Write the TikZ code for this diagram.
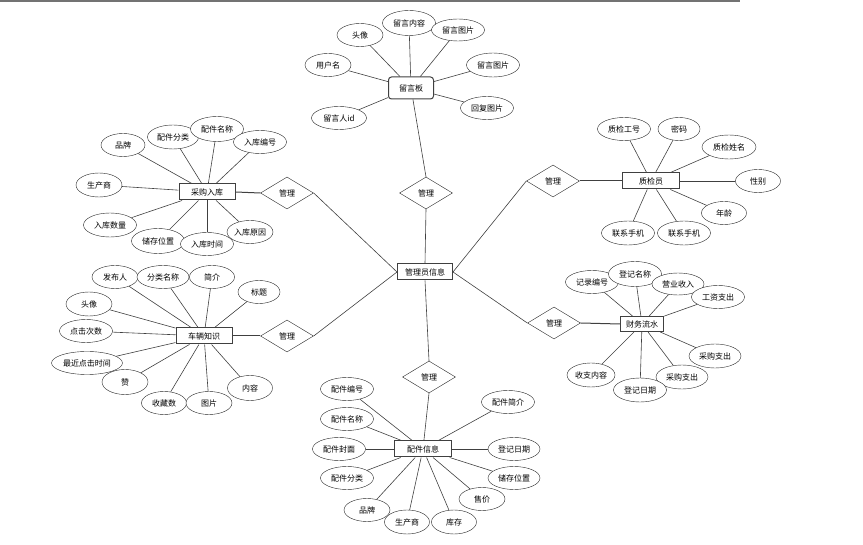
\documentclass[tikz,border=0pt]{standalone}
\usepackage{fontspec}
\setmainfont{Noto Sans CJK SC}
\usepackage{tikz}
\usetikzlibrary{shapes.geometric}
\tikzset{
  erfont/.style={font=\fontsize{8}{9}\selectfont},
  attr/.style={erfont, ellipse, draw=black!85, fill=white, minimum width=53pt, minimum height=24pt, inner sep=0pt},
  sattr/.style={attr, minimum width=46pt, minimum height=23pt},
  ent/.style={erfont, rectangle, draw=black!75, fill=white, line width=1pt, minimum width=56pt, minimum height=16pt, inner sep=0pt},
  rel/.style={erfont, diamond, draw=black!85, fill=white, minimum width=53pt, minimum height=32pt, inner sep=0pt},
  link/.style={draw=black!75, line width=0.6pt}
}

\begin{document}
\begin{tikzpicture}[x=1pt,y=-1pt]
\useasboundingbox (0,0) rectangle (863,545);
% page edge
\draw[black!55, line width=1.5pt] (0,1) -- (740,1);

% Centre
\node[ent, minimum width=55pt] (admin) at (425,272) {管理员信息};
\node[rel] (m1) at (426,193) {管理};
\node[rel] (m2) at (287,193) {管理};
\node[rel] (m3) at (287,336) {管理};
\node[rel] (m4) at (429,377) {管理};
\node[rel] (m5) at (553,181) {管理};
\node[rel] (m6) at (554,323) {管理};

% Message board
\node[ent, rounded corners=3pt, minimum width=45pt, minimum height=22pt] (board) at (411,88) {留言板};
\node[sattr] (b1) at (360,35) {头像};
\node[attr, minimum height=25pt] (b2) at (409,23) {留言内容};
\node[attr, minimum height=22pt] (b3) at (458,30) {留言图片};
\node[attr] (b4) at (493,65) {留言图片};
\node[attr, minimum height=23pt] (b5) at (487,108) {回复图片};
\node[sattr] (b6) at (328,65) {用户名};
\node[attr, minimum width=55pt, minimum height=23pt] (b7) at (339,118) {留言人id};
\foreach \a in {b1,b2,b3,b4,b5,b6,b7}
  \draw[link] (board) -- (\a);

% Purchase
\node[ent] (buy) at (207,192) {采购入库};
\node[sattr, minimum width=44pt] (p1) at (123,145) {品牌};
\node[attr, minimum width=51pt] (p2) at (173,137) {配件分类};
\node[attr, minimum height=25pt] (p3) at (217,129) {配件名称};
\node[attr, minimum height=23pt] (p4) at (260,142) {入库编号};
\node[sattr, minimum height=24pt] (p5) at (99,185) {生产商};
\node[attr] (p6) at (110,225) {入库数量};
\node[attr, minimum height=25pt] (p7) at (158,241) {储存位置};
\node[attr, minimum height=23pt] (p8) at (207,244) {入库时间};
\node[sattr] (p9) at (250,232) {入库原因};
\foreach \a in {p1,p2,p3,p4,p5,p6,p7,p8,p9}
  \draw[link] (buy) -- (\a);

% Car knowledge
\node[ent] (car) at (204,336) {车辆知识};
\node[sattr] (k1) at (115,277) {发布人};
\node[attr, minimum width=52pt, minimum height=23pt] (k2) at (163,277) {分类名称};
\node[sattr, minimum width=45pt] (k3) at (212,277) {简介};
\node[sattr, minimum width=42pt] (k4) at (259,292) {标题};
\node[sattr, minimum height=24pt] (k5) at (89,304) {头像};
\node[attr, minimum height=23pt] (k6) at (86,331) {点击次数};
\node[attr, minimum width=71pt, minimum height=23pt] (k7) at (87,363) {最近点击时间};
\node[sattr, minimum height=25pt] (k8) at (125,382) {赞};
\node[sattr, minimum width=45pt] (k9) at (164,403) {收藏数};
\node[sattr] (k10) at (209,403) {图片};
\node[sattr, minimum width=45pt, minimum height=25pt] (k11) at (250,388) {内容};
\foreach \a in {k1,k2,k3,k4,k5,k6,k7,k8,k9,k10,k11}
  \draw[link] (car) -- (\a);

% Parts
\node[ent, minimum width=57pt] (part) at (423,449) {配件信息};
\node[attr, minimum height=23pt] (c1) at (347,389) {配件编号};
\node[attr, minimum height=23pt] (c2) at (347,419) {配件名称};
\node[attr, minimum height=23pt] (c3) at (339,449) {配件封面};
\node[attr, minimum height=23pt] (c4) at (347,478) {配件分类};
\node[sattr] (c5) at (367,510) {品牌};
\node[sattr, minimum width=45pt, minimum height=24pt] (c6) at (407,522) {生产商};
\node[sattr, minimum width=45pt, minimum height=24pt] (c7) at (454,522) {库存};
\node[sattr] (c8) at (482,499) {售价};
\node[attr, minimum width=52pt, minimum height=23pt] (c9) at (514,478) {储存位置};
\node[attr, minimum width=52pt, minimum height=23pt] (c10) at (514,449) {登记日期};
\node[attr, minimum height=23pt] (c11) at (508,402) {配件简介};
\foreach \a in {c1,c2,c3,c4,c5,c6,c7,c8,c9,c10,c11}
  \draw[link] (part) -- (\a);

% Quality inspector
\node[ent, minimum width=57pt] (qc) at (651,181) {质检员};
\node[attr, minimum height=23pt] (q1) at (624,129) {质检工号};
\node[sattr, minimum width=42pt] (q2) at (679,129) {密码};
\node[attr, minimum width=54pt] (q3) at (729,147) {质检姓名};
\node[sattr, minimum width=45pt] (q4) at (758,181) {性别};
\node[sattr, minimum width=45pt] (q5) at (724,213) {年龄};
\node[attr] (q6) at (628,233) {联系手机};
\node[attr] (q7) at (684,233) {联系手机};
\foreach \a in {q1,q2,q3,q4,q5,q6,q7}
  \draw[link] (qc) -- (\a);

% Finance
\node[ent, minimum width=43pt, minimum height=15pt] (fin) at (642,324) {财务流水};
\node[attr, minimum height=23pt] (f1) at (592,282) {记录编号};
\node[attr, minimum height=25pt] (f2) at (635,274) {登记名称};
\node[attr, minimum width=52pt, minimum height=22pt] (f3) at (678,284) {营业收入};
\node[attr, minimum height=23pt] (f4) at (718,297) {工资支出};
\node[attr, minimum width=52pt] (f5) at (715,356) {采购支出};
\node[attr, minimum width=52pt] (f6) at (682,377) {采购支出};
\node[attr] (f7) at (640,390) {登记日期};
\node[attr, minimum width=48pt] (f8) at (591,375) {收支内容};
\foreach \a in {f1,f2,f3,f4,f5,f6,f7,f8}
  \draw[link] (fin) -- (\a);

% Relations
\draw[link] (board) -- (m1.north);
\draw[link] (m1.south) -- (admin.north);
\draw[link] (m2.east) -- (admin.west);
\draw[link] (m3.east) -- (admin.west);
\draw[link] (m5.west) -- (admin.east);
\draw[link] (m6.west) -- (admin.east);
\draw[link] (admin.south) -- (m4.north);
\draw[link] (m4.south) -- (part);
\draw[link, line width=1pt] (m2.west) -- (buy.east);
\draw[link, line width=1pt] (m3.west) -- (car.east);
\draw[link, line width=1pt] (m5.east) -- (qc.west);
\draw[link, line width=1pt] (m6.east) -- (fin.west);
\end{tikzpicture}
\end{document}
